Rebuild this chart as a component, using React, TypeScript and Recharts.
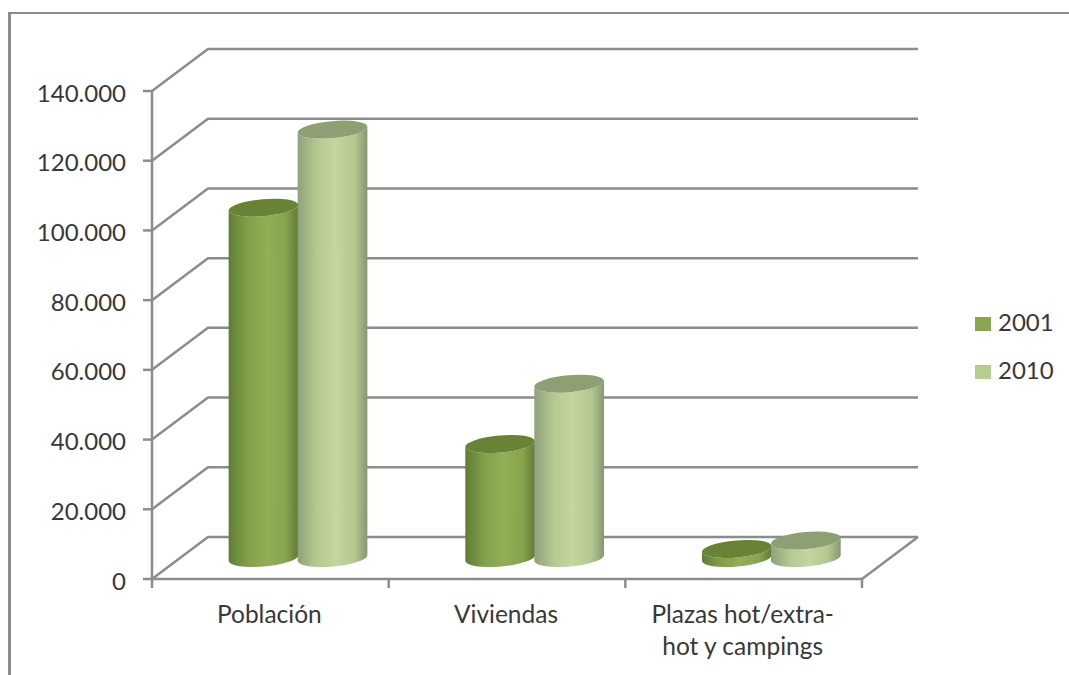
import { BarChart, Bar, XAxis, YAxis, CartesianGrid, Legend } from 'recharts';

const categories = ['Población', 'Viviendas', 'Plazas hot/extra-\nhot y campings'];
const serie2001 = [100500, 32700, 2600];
const serie2010 = [122900, 50000, 5000];
const yTicks = [0, 20000, 40000, 60000, 80000, 100000, 120000, 140000];

const tableData = categories.map((name, i) => ({
  name,
  y2001: serie2001[i],
  y2010: serie2010[i],
}));

const WIDTH = 1069;
const HEIGHT = 675;
const PLOT_WIDTH = 710;
// oblique offset of the back wall relative to the front of the floor
const DEPTH_X = 56;
const DEPTH_Y = 42;
const AXIS_COLOR = '#8c8c8c';
const TEXT_COLOR = '#383838';
const FONT = 'Lato, sans-serif';
const TILT = 5;

// wall line: oblique run up the side wall, then straight along the back
function WallLine(props: any) {
  const { x1, x2, y1, index } = props;
  const bx = x1 + DEPTH_X;
  const by = y1 - DEPTH_Y;
  const isFloor = Math.abs(y1 - 579) < 1;
  return (
    <g key={index} fill="none" stroke={AXIS_COLOR} strokeWidth={2.5}>
      <polyline points={`${x1},${y1} ${bx},${by} ${x2 + DEPTH_X},${by}`} />
      {isFloor && <line x1={x2} y1={y1} x2={x2 + DEPTH_X} y2={by} />}
    </g>
  );
}

function Cylinder(props: any) {
  const { x, y, width, height, gradient, topColor } = props;
  const rx = width / 2 + 0.5;
  const ry = 8.5;
  const cx = x + width / 2 + DEPTH_X / 2;
  const topY = y - DEPTH_Y / 2;
  const baseY = y + height - DEPTH_Y / 2;
  const rad = (TILT * Math.PI) / 180;
  const ex = rx * Math.cos(rad);
  const ey = rx * Math.sin(rad);
  const body = [
    `M${cx - ex},${topY + ey}`,
    `L${cx - ex},${baseY + ey}`,
    `A${rx},${ry} ${-TILT} 0 0 ${cx + ex},${baseY - ey}`,
    `L${cx + ex},${topY - ey}`,
    `A${rx},${ry} ${-TILT} 0 1 ${cx - ex},${topY + ey}`,
    'Z',
  ].join(' ');
  return (
    <g>
      <path d={body} fill={`url(#${gradient})`} />
      <ellipse
        cx={cx}
        cy={topY}
        rx={rx}
        ry={ry}
        fill={topColor}
        transform={`rotate(${-TILT} ${cx} ${topY})`}
      />
    </g>
  );
}

function CategoryTick(props: any) {
  const { x, y, payload, index } = props;
  const band = PLOT_WIDTH / categories.length;
  const lines = String(payload.value).split('\n');
  return (
    <g>
      <line x1={x - band / 2} y1={y} x2={x - band / 2} y2={y + 9} stroke={AXIS_COLOR} strokeWidth={2.5} />
      {index === categories.length - 1 && (
        <line x1={x + band / 2} y1={y} x2={x + band / 2} y2={y + 9} stroke={AXIS_COLOR} strokeWidth={2.5} />
      )}
      <text x={x - 1} y={y + 44} textAnchor="middle" fill={TEXT_COLOR} fontFamily={FONT} fontSize={24.5}>
        {lines.map((line, i) => (
          <tspan key={line} x={x - 1} dy={i === 0 ? 0 : 32}>
            {line}
          </tspan>
        ))}
      </text>
    </g>
  );
}

function LegendBox(props: any) {
  return (
    <div style={{ width: 94, fontFamily: FONT, fontSize: 24, color: TEXT_COLOR }}>
      {props.payload.map((entry: any) => (
        <div key={entry.value} style={{ display: 'flex', alignItems: 'center', height: 48 }}>
          <span style={{ width: 16, height: 14, background: entry.color, marginRight: 7, marginTop: 3 }} />
          <span style={{ marginTop: -1 }}>{entry.value}</span>
        </div>
      ))}
    </div>
  );
}

const formatMiles = (v: number) => (v === 0 ? '0' : `${v / 1000}.000`);

export default function App() {
  return (
    <div style={{ position: 'absolute', left: 0, top: 0, width: WIDTH, height: HEIGHT, overflow: 'hidden', background: '#fff' }}>
      <div
        style={{
          position: 'absolute',
          left: 8,
          top: 12,
          right: 0,
          bottom: 0,
          borderLeft: `3px solid ${AXIS_COLOR}`,
          borderTop: `2px solid ${AXIS_COLOR}`,
        }}
      />
      <BarChart
        width={WIDTH}
        height={HEIGHT}
        data={tableData}
        barSize={69}
        barGap={0}
        margin={{ top: 91, right: 113, bottom: 56, left: 52 }}
        style={{ position: 'absolute', left: 0, top: 0 }}
      >
        <defs>
          <linearGradient id="grad2001" x1="0" y1="0" x2="1" y2="0">
            <stop offset="0%" stopColor="#5f7e34" />
            <stop offset="28%" stopColor="#83a14b" />
            <stop offset="55%" stopColor="#91af55" />
            <stop offset="82%" stopColor="#86a44d" />
            <stop offset="100%" stopColor="#5e7a34" />
          </linearGradient>
          <linearGradient id="grad2010" x1="0" y1="0" x2="1" y2="0">
            <stop offset="0%" stopColor="#8fa17a" />
            <stop offset="28%" stopColor="#b5ca91" />
            <stop offset="55%" stopColor="#c2d69d" />
            <stop offset="82%" stopColor="#b3c88f" />
            <stop offset="100%" stopColor="#87976f" />
          </linearGradient>
        </defs>
        <CartesianGrid horizontal={(p: any) => <WallLine {...p} />} vertical={false} />
        <XAxis
          dataKey="name"
          height={40}
          interval={0}
          tick={<CategoryTick />}
          tickLine={false}
          tickSize={0}
          tickMargin={0}
          axisLine={{ stroke: AXIS_COLOR, strokeWidth: 2.5 }}
        />
        <YAxis
          width={100}
          domain={[0, 140000]}
          ticks={yTicks}
          interval={0}
          tickFormatter={formatMiles}
          tickSize={9}
          tickMargin={17}
          tick={{ fill: TEXT_COLOR, fontFamily: FONT, fontSize: 24, dy: 2 }}
          tickLine={{ stroke: AXIS_COLOR, strokeWidth: 2.5 }}
          axisLine={{ stroke: AXIS_COLOR, strokeWidth: 2.5 }}
        />
        <Legend
          layout="vertical"
          align="right"
          verticalAlign="top"
          content={<LegendBox />}
          wrapperStyle={{ left: 975, top: 298, width: 94 }}
        />
        <Bar
          dataKey="y2001"
          name="2001"
          fill="#89a64e"
          isAnimationActive={false}
          shape={<Cylinder gradient="grad2001" topColor="#688236" />}
        />
        <Bar
          dataKey="y2010"
          name="2010"
          fill="#b6cd90"
          isAnimationActive={false}
          shape={<Cylinder gradient="grad2010" topColor="#8f9f74" />}
        />
      </BarChart>
    </div>
  );
}
